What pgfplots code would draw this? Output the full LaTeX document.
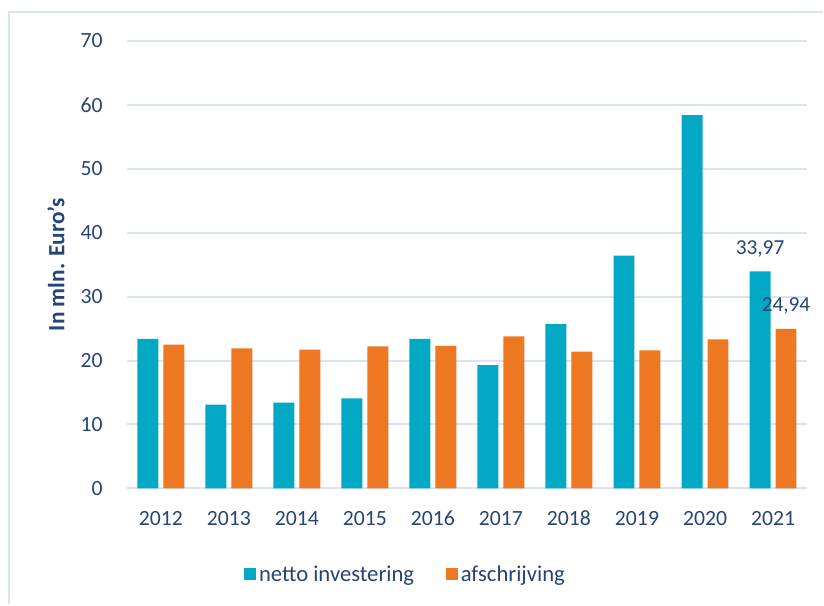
\documentclass[border=0pt]{standalone}
\usepackage{pgfplots}
\pgfplotsset{compat=1.18}
\usepackage{fontspec}
\setmainfont{Carlito}
\definecolor{teal1}{RGB}{3,169,196}
\definecolor{orange1}{RGB}{238,119,34}
\definecolor{txtblue}{RGB}{38,68,120}
\definecolor{gridblue}{RGB}{217,227,242}
\begin{document}
\begin{tikzpicture}
\begin{axis}[
  scale only axis, width=510.75pt, height=336pt,
  xmin=-0.5, xmax=9.5, ymin=0, ymax=70,
  ybar=3.75pt, bar width=15.75pt,
  axis line style={draw=none},
  major tick length=0pt,
  ymajorgrids, grid style={draw=gridblue, line width=1.5pt},
  ytick={0,10,...,70},
  xtick={0,...,9},
  xticklabels={2012,2013,2014,2015,2016,2017,2018,2019,2020,2021},
  /pgf/number format/assume math mode=true,
  ticklabel style={font=\fontsize{16.3}{19}\selectfont, text=txtblue},
  yticklabel style={inner sep=0pt, anchor=east, xshift=-18pt},
  xticklabel style={inner sep=0pt, text height=10.5pt, text depth=0pt, anchor=north, yshift=-17pt},
  ylabel={In mln. Euro's},
  ylabel style={at={(rel axis cs:-0.1043,0.5)}, anchor=center, rotate=0,
    font=\bfseries\fontsize{17.5}{20}\selectfont, text=txtblue},
  point meta=explicit symbolic,
  nodes near coords={\pgfplotspointmeta},
  every node near coord/.append style={anchor=center, yshift=17pt,
    font=\fontsize{16}{19}\selectfont, text=txtblue},
  legend style={at={(rel axis cs:0.4104,-0.192)}, anchor=center, draw=none,
    font=\fontsize{17}{20}\selectfont, text=txtblue,
    /tikz/every even column/.append style={column sep=22pt}},
  legend columns=2,
  legend image code/.code={\fill[#1] (0pt,-4.5pt) rectangle (9pt,4.5pt);},
]
\addplot[fill=teal1, draw=none] coordinates {
 (0,23.4) [] (1,13.1) [] (2,13.4) [] (3,14.1) [] (4,23.4) []
 (5,19.3) [] (6,25.7) [] (7,36.4) [] (8,58.4) [] (9,33.97) [{33,97}]};
\addplot[fill=orange1, draw=none] coordinates {
 (0,22.5) [] (1,21.9) [] (2,21.7) [] (3,22.2) [] (4,22.3) []
 (5,23.8) [] (6,21.4) [] (7,21.6) [] (8,23.3) [] (9,24.94) [{24,94}]};
\legend{netto investering, afschrijving}
\end{axis}
\draw[gridblue, line width=1.5pt] (-88.5pt,-87pt) -- (-88.5pt,357.4pt) -- (522.75pt,357.4pt);
\useasboundingbox (-95.25pt,-87pt) rectangle (522.75pt,366.75pt);
\end{tikzpicture}
\end{document}
